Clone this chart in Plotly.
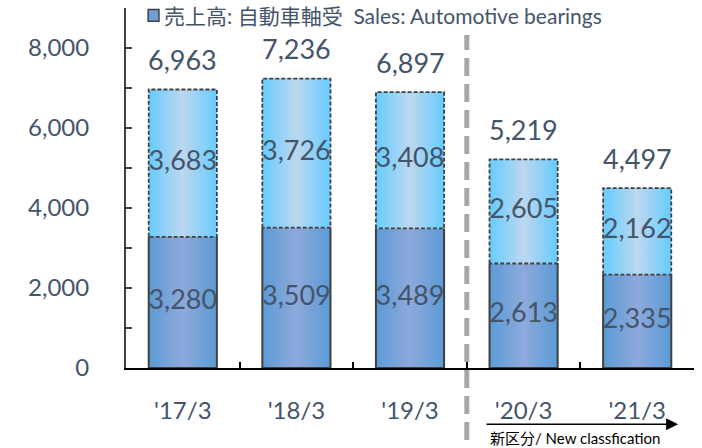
import plotly.graph_objects as go

categories = ["'17/3", "'18/3", "'19/3", "'20/3", "'21/3"]
lower_vals = [3280, 3509, 3489, 2613, 2335]
upper_vals = [3683, 3726, 3408, 2605, 2162]
totals = [6963, 7236, 6897, 5219, 4497]

TXT = "#44546A"
FONT = "Lato, 'Noto Sans CJK JP', sans-serif"
BW = 0.6  # bar width in category units

fig = go.Figure()
xs = list(range(len(categories)))

for i, (lo, up) in enumerate(zip(lower_vals, upper_vals)):
    x0, x1 = i - BW / 2, i + BW / 2
    fig.add_trace(go.Scatter(
        x=[x0, x0, x1, x1], y=[lo, 0, 0, lo], mode="lines", fill="toself",
        fillgradient=dict(type="horizontal",
                          colorscale=[[0, "#5B9BD5"], [0.5, "#8EA9DB"], [1, "#5B9BD5"]]),
        line=dict(color="#404040", width=2), showlegend=False, hoverinfo="skip"))
    fig.add_trace(go.Scatter(
        x=[x0, x0, x1, x1, x0], y=[lo, lo + up, lo + up, lo, lo], mode="lines", fill="toself",
        fillgradient=dict(type="horizontal",
                          colorscale=[[0, "#66CCFF"], [0.5, "#BDD7EE"], [1, "#66CCFF"]]),
        line=dict(color="#404040", width=1.8, dash="4px,2px"), showlegend=False, hoverinfo="skip"))

fig.add_trace(go.Scatter(
    x=xs, y=[v / 2 for v in lower_vals], mode="text",
    text=[f"{v:,}" for v in lower_vals], textfont=dict(size=27, color=TXT, family=FONT),
    showlegend=False, hoverinfo="skip"))
fig.add_trace(go.Scatter(
    x=xs, y=[lo + up / 2 for lo, up in zip(lower_vals, upper_vals)], mode="text",
    text=[f"{v:,}" for v in upper_vals], textfont=dict(size=27, color=TXT, family=FONT),
    showlegend=False, hoverinfo="skip"))

annotations = [
    dict(xref="x", yref="y", x=x, y=t, yshift=30, yanchor="middle", text=f"{t:,}",
         showarrow=False, font=dict(size=27, color=TXT, family=FONT))
    for x, t in zip(xs, totals)
]
annotations += [
    dict(xref="paper", yref="paper", x=0.064, y=0.98, xanchor="left", yanchor="middle",
         text="売上高: 自動車軸受  Sales: Automotive bearings", showarrow=False,
         font=dict(size=21, color=TXT, family=FONT)),
    dict(xref="x", yref="paper", x=4.36, y=-0.156, ax=-193, ay=0, axref="pixel", ayref="pixel",
         showarrow=True, arrowhead=2, arrowsize=1.6, arrowwidth=1.5, arrowcolor="#000000", text=""),
    dict(xref="x", yref="paper", x=2.69, y=-0.195, xanchor="left", yanchor="middle",
         text="新区分/ New classfication", showarrow=False,
         font=dict(size=15, color="#000000", family=FONT)),
]

fig.update_layout(
    width=702, height=448,
    margin=dict(l=126, r=8, t=8, b=80),
    paper_bgcolor="white", plot_bgcolor="white",
    font=dict(family=FONT, color=TXT),
    xaxis=dict(range=[-0.5, 4.5], tickvals=xs, ticktext=categories, showgrid=False,
               zeroline=False, showline=True, linecolor="#000000", linewidth=2, automargin=False,
               ticks="", tickfont=dict(size=24, color=TXT, family=FONT), ticklabelstandoff=20,
               minor=dict(tickvals=[0.5, 1.5, 2.5, 3.5], ticks="inside", ticklen=6,
                          tickcolor="#000000", tickwidth=2)),
    yaxis=dict(range=[0, 9000], tickvals=[0, 2000, 4000, 6000, 8000],
               ticktext=["0", "2,000", "4,000", "6,000", "8,000"], automargin=False,
               showgrid=False, zeroline=False, showline=True, linecolor="#404040", linewidth=2,
               ticks="inside", ticklen=6, tickcolor="#404040", tickwidth=2,
               tickfont=dict(size=24, color=TXT, family=FONT), ticklabelstandoff=30,
               minor=dict(tickvals=[1000, 3000, 5000, 7000, 9000], ticks="inside", ticklen=6,
                          tickcolor="#404040", tickwidth=2)),
    shapes=[
        dict(type="line", xref="x", yref="paper", x0=2.5, x1=2.5, y0=-0.2, y1=0.925,
             line=dict(color="#A6A6A6", width=5, dash="18px,8px")),
        dict(type="rect", xref="paper", yref="paper", x0=0.039, x1=0.058, y0=0.963, y1=0.996,
             fillcolor="#6F9FD8", line=dict(color="#404040", width=1.5)),
    ],
    annotations=annotations,
)

fig.write_html("out.html", config={"displayModeBar": False},
               post_script="document.body.style.margin='0';")
